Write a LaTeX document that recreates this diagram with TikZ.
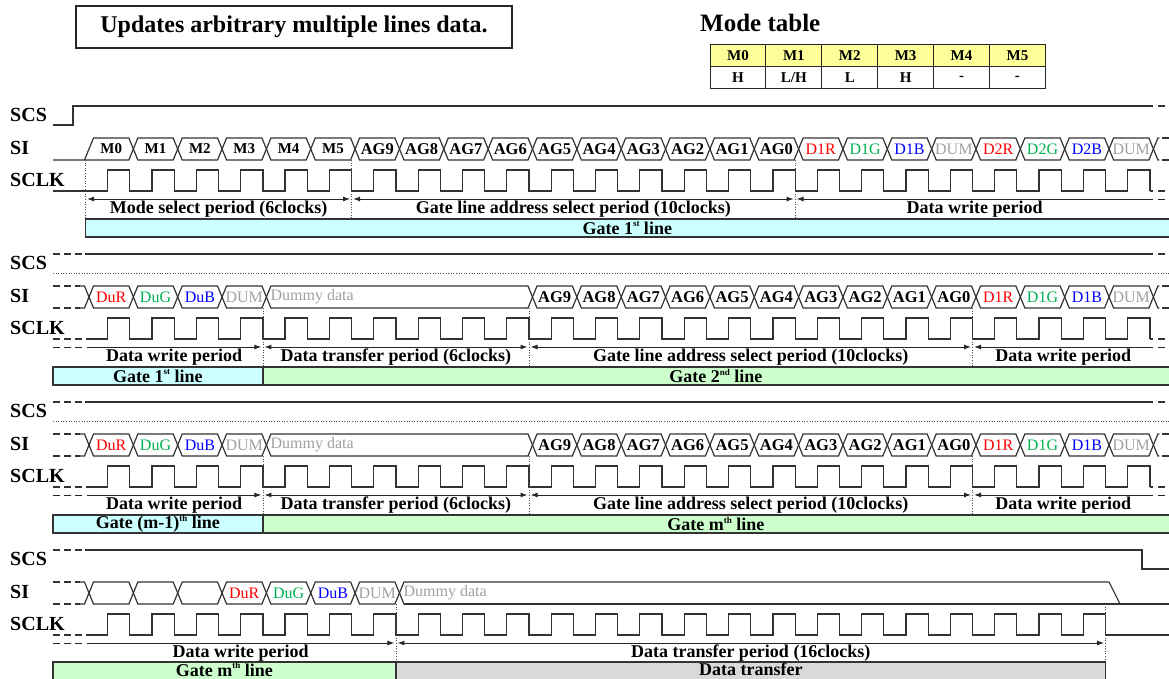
\documentclass[tikz,border=0pt]{standalone}
\usepackage{fontspec}
\setmainfont{Liberation Serif}
\usepackage{xcolor}
\usetikzlibrary{arrows.meta}

\definecolor{gcyan}{HTML}{CCFFFF}
\definecolor{ggreen}{HTML}{CCFFCC}
\definecolor{ggray}{HTML}{D9D9D9}
\definecolor{myellow}{HTML}{FFFF99}
\definecolor{dred}{HTML}{FF0000}
\definecolor{dgreen}{HTML}{00B050}
\definecolor{dblue}{HTML}{0000FF}
\definecolor{dgray}{HTML}{A0A0A0}

\tikzset{
  sig/.style={line width=1.2pt, draw=black!80, line join=miter},
  dsig/.style={sig, dash pattern=on 7pt off 4pt},
  guide/.style={line width=0.6pt, dotted, draw=black!70},
  per/.style={line width=1pt, draw=black!85, shorten <=1.5pt, shorten >=1.5pt},
  dper/.style={line width=1pt, draw=black!85, dash pattern=on 7pt off 4pt},
  sigtext/.style={font=\fontsize{20}{24}\selectfont\bfseries, anchor=west, inner sep=0pt},
  celltext/.style={font=\fontsize{15}{18}\selectfont\bfseries, inner sep=0pt},
  agtext/.style={font=\fontsize{16.5}{18}\selectfont\bfseries, inner sep=0pt},
  coltext/.style={font=\fontsize{16}{18}\selectfont, inner sep=0pt},
  pertext/.style={font=\fontsize{18}{20}\selectfont\bfseries, inner sep=0pt},
  gatebox/.style={line width=1.2pt, draw=black!80},
  mcell/.style={draw=black!85, line width=1pt, minimum width=55.9pt, minimum height=22pt,
    inner sep=0pt, font=\fontsize{15}{18}\selectfont\bfseries},
  >={Latex[length=7pt,width=5pt]},
  declare function={ck(\k)=85.5+\k*44.35; cx(\k)=89+\k*44.35;}
}

% small raised ordinal
\newcommand{\ordsup}[1]{\raisebox{0.42em}{\fontsize{9}{9}\selectfont #1}}

% one data cell of the SI bus
\newcommand{\sihex}[2]{%
  \draw[sig] ({cx(#1)},149) -- ({cx(#1)+4.5},138) -- ({cx(#2)-4.5},138)
    -- ({cx(#2)},149) -- ({cx(#2)-4.5},160) -- ({cx(#1)+4.5},160) -- cycle;}
\newcommand{\sicell}[4][celltext]{%
  \sihex{#2}{#3}
  \node[#1] (\secid-#2) at ({(cx(#2)+cx(#3))/2},149) {#4};}
\newcommand{\sistart}{%
  \draw[dsig] (53,138) -- (80,138);
  \draw[dsig] (53,160) -- (80,160);
  \draw[sig] (80,138) -- ({cx(0)-4.5},138) -- ({cx(0)},149) -- ({cx(0)-4.5},160) -- (80,160);}
\newcommand{\siend}[1]{%
  \draw[sig] ({cx(#1)+6},138) -- ({cx(#1)+4.5},138) -- ({cx(#1)},149)
    -- ({cx(#1)+4.5},160) -- ({cx(#1)+6},160);
  \draw[dsig] ({cx(#1)+9},138) -- (1169,138);
  \draw[dsig] ({cx(#1)+9},160) -- (1169,160);}
\newcommand{\clockrun}[2]{%
  \draw[sig] ({ck(#1)},191) \foreach \k in {#1,...,#2} {
    -- ({ck(\k)+22.17},191) -- ({ck(\k)+22.17},170) -- ({ck(\k+1)},170) -- ({ck(\k+1)},191)};}
\newcommand{\siglabels}[1]{%
  \node[sigtext] (#1-scs) at (10,115) {SCS};
  \node[sigtext] (#1-si) at (10,148) {SI};
  \node[sigtext] (#1-sclk) at (10,180) {SCLK};}

% sections two and three
\newcommand{\midsection}[4]{%
  \begin{scope}[shift={(0,#2)}]
    \def\secid{#1}
    \siglabels{#1}
    \draw[dsig] (53,106) -- (85,106);
    \draw[sig] (85,106) -- (1153,106);
    \draw[dsig] (1158,106) -- (1169,106);
    \draw[guide] (53,125) -- (1169,125);
    \sistart
    \foreach \lab/\col [count=\i from 0] in {DuR/dred,DuG/dgreen,DuB/dblue,DUM/dgray}
      {\sicell[coltext,text=\col]{\i}{\i+1}{\lab}}
    \sihex{4}{10}
    \node[coltext,text=dgray,anchor=west] (#1-dummy) at ({cx(4)+4},149) {Dummy data};
    \foreach \lab [count=\i from 10] in {AG9,AG8,AG7,AG6,AG5,AG4,AG3,AG2,AG1,AG0}
      {\sicell[agtext]{\i}{\i+1}{\lab}}
    \foreach \lab/\col [count=\i from 20] in {D1R/dred,D1G/dgreen,D1B/dblue,DUM/dgray}
      {\sicell[coltext,text=\col]{\i}{\i+1}{\lab}}
    \siend{24}
    \draw[dsig] (53,191) -- (85,191);
    \clockrun{0}{23}
    \draw[sig] ({ck(24)},191) -- (1153,191);
    \draw[dsig] (1158,191) -- (1169,191);
    \coordinate (#1-p0) at ({ck(0)},199);
    \coordinate (#1-p4) at ({ck(4)},199);
    \coordinate (#1-p10) at ({ck(10)},199);
    \coordinate (#1-p20) at ({ck(20)},199);
    \coordinate (#1-pe) at (1154,199);
    \draw[dper] (53,199) -- (85,199);
    \draw[per,->] (#1-p0) -- (#1-p4);
    \draw[per,<->] (#1-p4) -- (#1-p10);
    \draw[per,<->] (#1-p10) -- (#1-p20);
    \draw[per,<-] (#1-p20) -- (#1-pe);
    \draw[dper] (1158,199) -- (1169,199);
    \node[pertext] (#1-t0) at ({(ck(0)+ck(4))/2},209) {Data write period};
    \node[pertext] (#1-t1) at ({(ck(4)+ck(10))/2},209) {Data transfer period (6clocks)};
    \node[pertext] (#1-t2) at ({(ck(10)+ck(20))/2},209) {Gate line address select period (10clocks)};
    \node[pertext] (#1-t3) at ({(ck(20)+1154)/2},209) {Data write period};
    \foreach \k in {4,10,20} \draw[guide] ({ck(\k)},160) -- ({ck(\k)},219);
    \draw[gatebox,fill=gcyan] (53,219) rectangle ({ck(4)},237);
    \fill[ggreen] ({ck(4)},219) rectangle (1169,237);
    \draw[gatebox] (1169,219) -- ({ck(4)},219) -- ({ck(4)},237) -- (1169,237);
    \node[pertext] (#1-gl) at ({(53+ck(4))/2},228) {#3};
    \node[pertext] (#1-gr) at ({(ck(4)+1169)/2},228) {#4};
  \end{scope}}

\begin{document}
\begin{tikzpicture}[x=1pt,y=-1pt]
  \useasboundingbox (0,0) rectangle (1169,679);

  \node[draw=black!85, line width=1.3pt, minimum width=436pt, minimum height=42pt,
    font=\fontsize{24}{28}\selectfont\bfseries] (title) at (294,27)
    {Updates arbitrary multiple lines data.};
  \node[anchor=west, inner sep=0pt, font=\fontsize{25}{28}\selectfont\bfseries]
    (modehead) at (700,23) {Mode table};
  \foreach \lab [count=\i from 0] in {M0,M1,M2,M3,M4,M5}
    \node[mcell, fill=myellow] (mh\i) at ({737.95+\i*55.9},56) {\lab};
  \foreach \lab [count=\i from 0] in {H,L/H,L,H,-,-}
    \node[mcell] (mv\i) at ({737.95+\i*55.9},78) {\lab};

  % first line
  \begin{scope}
    \def\secid{a}
    \siglabels{a}
    \draw[sig] (53,125) -- (73,125) -- (73,106) -- (1153,106);
    \draw[dsig] (1158,106) -- (1169,106);
    \draw[sig] (53,160) -- ({cx(1)-4.5},160) -- ({cx(1)},149);
    \draw[sig] ({cx(0)-4.5},160) -- ({cx(0)+4.5},138) -- ({cx(1)-4.5},138) -- ({cx(1)},149);
    \node[celltext] (a-0) at ({(cx(0)+cx(1))/2},149) {M0};
    \foreach \lab [count=\i from 1] in {M1,M2,M3,M4,M5}
      {\sicell{\i}{\i+1}{\lab}}
    \foreach \lab [count=\i from 6] in {AG9,AG8,AG7,AG6,AG5,AG4,AG3,AG2,AG1,AG0}
      {\sicell[agtext]{\i}{\i+1}{\lab}}
    \foreach \lab/\col [count=\i from 16] in {D1R/dred,D1G/dgreen,D1B/dblue,DUM/dgray,D2R/dred,D2G/dgreen,D2B/dblue,DUM/dgray}
      {\sicell[coltext,text=\col]{\i}{\i+1}{\lab}}
    \siend{24}
    \draw[sig] (53,191) -- ({ck(0)},191);
    \clockrun{0}{23}
    \draw[sig] ({ck(24)},191) -- (1153,191);
    \draw[dsig] (1158,191) -- (1169,191);
    \coordinate (a-p0) at ({ck(0)},199);
    \coordinate (a-p6) at ({ck(6)},199);
    \coordinate (a-p16) at ({ck(16)},199);
    \coordinate (a-pe) at (1154,199);
    \draw[per,<->] (a-p0) -- (a-p6);
    \draw[per,<->] (a-p6) -- (a-p16);
    \draw[per,<-] (a-p16) -- (a-pe);
    \draw[dper] (1158,199) -- (1169,199);
    \node[pertext] (a-t0) at ({(ck(0)+ck(6))/2},209) {Mode select period (6clocks)};
    \node[pertext] (a-t1) at ({(ck(6)+ck(16))/2},209) {Gate line address select period (10clocks)};
    \node[pertext] (a-t2) at ({(ck(16)+1154)/2},209) {Data write period};
    \foreach \k in {0,6,16} \draw[guide] ({ck(\k)},160) -- ({ck(\k)},219);
    \fill[gcyan] ({ck(0)},219) rectangle (1169,237);
    \draw[gatebox] (1169,219) -- ({ck(0)},219) -- ({ck(0)},237) -- (1169,237);
    \node[pertext] (a-g) at ({(ck(0)+1169)/2},228) {Gate 1\ordsup{st} line};
  \end{scope}

  \midsection{b}{148}{Gate 1\ordsup{st} line}{Gate 2\ordsup{nd} line}
  \midsection{c}{296}{Gate (m-1)\ordsup{th} line}{Gate m\ordsup{th} line}

  % last line
  \begin{scope}[shift={(0,444)}]
    \def\secid{d}
    \siglabels{d}
    \draw[dsig] (53,106) -- (85,106);
    \draw[sig] (85,106) -- (1142,106) -- (1142,125) -- (1169,125);
    \sistart
    \foreach \i in {0,1,2} {\sihex{\i}{\i+1}}
    \foreach \lab/\col [count=\i from 3] in {DuR/dred,DuG/dgreen,DuB/dblue,DUM/dgray}
      {\sicell[coltext,text=\col]{\i}{\i+1}{\lab}}
    \draw[sig] ({cx(7)+4.5},160) -- ({cx(7)},149) -- ({cx(7)+4.5},138) -- ({cx(23)},138) -- ({cx(23)+11},160);
    \draw[sig] ({cx(7)+4.5},160) -- (1169,160);
    \node[coltext,text=dgray,anchor=west] (d-dummy) at ({cx(7)+4},149) {Dummy data};
    \draw[dsig] (53,191) -- (85,191);
    \clockrun{0}{22}
    \draw[sig] ({ck(23)},191) -- (1169,191);
    \coordinate (d-p0) at ({ck(0)},199);
    \coordinate (d-p7) at ({ck(7)},199);
    \coordinate (d-p23) at ({ck(23)},199);
    \draw[dper] (53,199) -- (85,199);
    \draw[per,->] (d-p0) -- (d-p7);
    \draw[per,<->] (d-p7) -- (d-p23);
    \node[pertext] (d-t0) at ({(ck(0)+ck(7))/2},209) {Data write period};
    \node[pertext] (d-t1) at ({(ck(7)+ck(23))/2},209) {Data transfer period (16clocks)};
    \foreach \k in {7,23} \draw[guide] ({ck(\k)},160) -- ({ck(\k)},218);
    \draw[gatebox,fill=ggreen] (53,218) rectangle ({ck(7)},236);
    \draw[gatebox,fill=ggray] ({ck(7)},218) rectangle ({ck(23)},236);
    \node[pertext] (d-gl) at ({(53+ck(7))/2},225.5) {Gate m\ordsup{th} line};
    \node[pertext] (d-gr) at ({(ck(7)+ck(23))/2},225.5) {Data transfer};
  \end{scope}
\end{tikzpicture}
\end{document}
